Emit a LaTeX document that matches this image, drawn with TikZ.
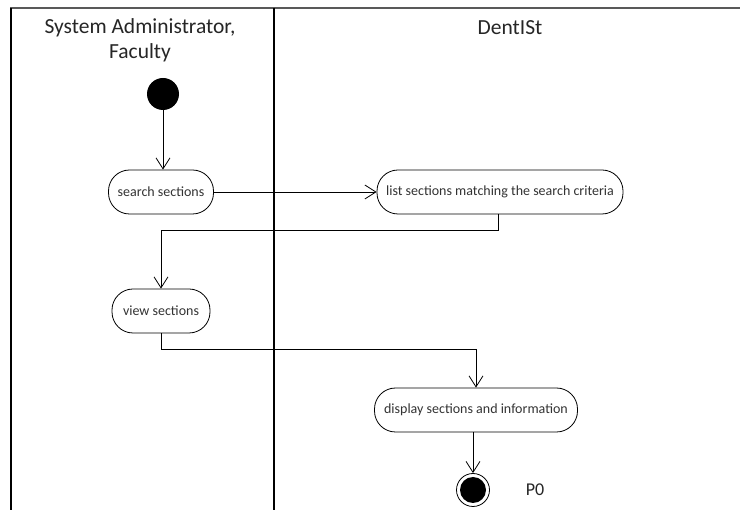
\documentclass[tikz,border=0pt]{standalone}
\usepackage{fontspec}
\setmainfont{Carlito}
\usetikzlibrary{arrows.meta}
\tikzset{
  act/.style={draw, line width=0.8pt, rounded corners=21pt, minimum height=44pt, inner xsep=8pt, font=\fontsize{14}{16}\selectfont, text=black!80},
  flow/.style={draw, line width=0.8pt, -{Straight Barb[length=11pt,width=14pt,line width=0.8pt]}},
  lane/.style={line width=2pt},
  hdr/.style={font=\fontsize{21.5}{25}\selectfont, align=center, text=black!85},
}
\begin{document}
\begin{tikzpicture}[x=1pt,y=-1pt]
\useasboundingbox (0,0) rectangle (740,510);
\fill[white] (0,0) rectangle (740,510);
% lanes
\draw[line width=2pt, black!65] (10,8) -- (740,8);
\draw[line width=1.5pt] (11,8) -- (11,510);
\draw[lane] (274,8) -- (274,510);
\node[hdr] (h1) at (140,40) {System Administrator,\\Faculty};
\node[hdr] (h2) at (510,28) {DentISt};
% nodes
\node[circle, fill=black, minimum size=32pt, inner sep=0pt] (start) at (163,94) {};
\node[act, minimum width=105pt] (search) at (161,192) {search sections};
\node[act, minimum width=246pt] (list) at (500,192) {list sections matching the search criteria};
\node[act, minimum width=98pt] (view) at (161,311) {view sections};
\node[act, minimum width=203pt] (disp) at (476,410) {display sections and information};
\node[circle, draw, line width=0.8pt, minimum size=33pt, inner sep=0pt] (end) at (473,490) {};
\node[circle, fill=black, minimum size=26pt, inner sep=0pt] (endin) at (end.center) {};
\node[font=\fontsize{18}{20}\selectfont, text=black!85] (p0) at (535,490) {P0};
% connector waypoints
\coordinate (l1) at (498,214);
\coordinate (b1) at (161,230);
\coordinate (b2) at (476,349);
% connectors
\draw[flow] (start.south) -- (start.south |- search.north);
\draw[flow] (search.east) -- (list.west);
\draw[flow] (l1) |- (b1) -- (view.north);
\draw[flow] (view.south) |- (b2) -- (disp.north);
\draw[flow] (end.north |- disp.south) -- (end.north);
\end{tikzpicture}
\end{document}
